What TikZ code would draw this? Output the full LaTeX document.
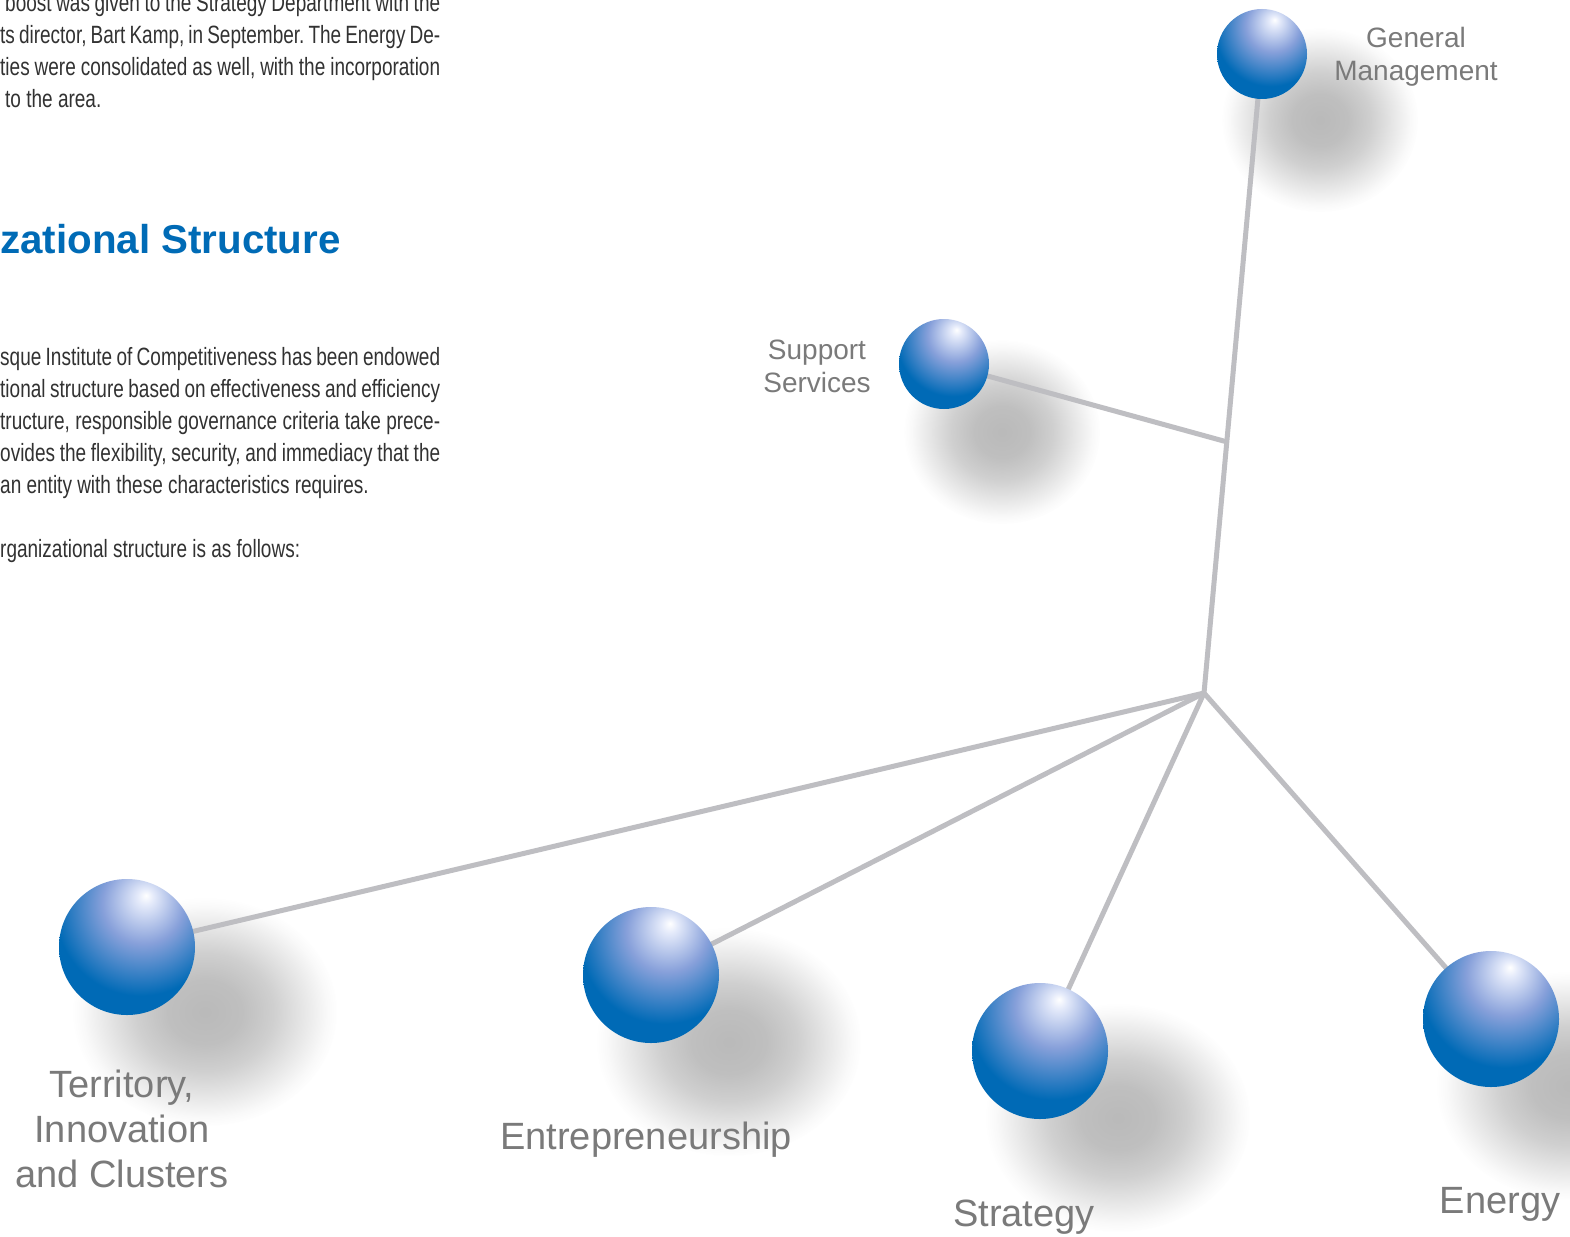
\documentclass[tikz,border=0pt]{standalone}
\usepackage{fontspec}
\setmainfont{Liberation Sans}
\newfontfamily\bodyfont[FakeStretch=0.76]{Liberation Sans}
\usetikzlibrary{fadings,backgrounds,calc}
\frenchspacing
\definecolor{sphblue}{RGB}{0,106,182}
\definecolor{hlcol}{RGB}{228,234,250}
\definecolor{midcol}{RGB}{135,160,218}
\definecolor{linegray}{RGB}{190,190,194}
\definecolor{labelgray}{RGB}{122,122,122}
\definecolor{textgray}{RGB}{50,50,50}
\definecolor{titleblue}{RGB}{0,107,182}
\pgfdeclareradialshading{sphereshade}{\pgfpoint{7bp}{19bp}}{color(0bp)=(white); color(3bp)=(hlcol); color(15bp)=(midcol); color(31bp)=(sphblue); color(100bp)=(sphblue)}
\pgfdeclareradialshading{shfadesh}{\pgfpointorigin}{color(0bp)=(white); color(7bp)=(white!92!black); color(13bp)=(white!68!black); color(19bp)=(white!32!black); color(23bp)=(white!8!black); color(25bp)=(black); color(50bp)=(black)}
\pgfdeclarefading{shfade}{\pgfuseshading{shfadesh}}
\tikzset{
  ball/.style={circle, inner sep=0pt, shade, shading=sphereshade},
  bigball/.style={ball, minimum size=136pt},
  smallball/.style={ball, minimum size=90pt},
  conn/.style={draw=linegray, line width=5pt},
  lbl/.style={text=labelgray, align=center, inner sep=0pt},
  biglbl/.style={lbl, font=\fontsize{38}{45}\selectfont},
  smalllbl/.style={lbl, font=\fontsize{28}{33}\selectfont},
  body/.style={text=textgray, anchor=base west, inner sep=0pt, font=\bodyfont\fontsize{25}{32}\selectfont},
  shadowblob/.style={fill=black!27, path fading=shfade}
}
\begin{document}
\begin{tikzpicture}[x=1pt, y=-1pt]
\useasboundingbox (0,0) rectangle (1570,1236);

% body text
\node[body] (t1) at (5,12) {\makebox[435pt][s]{boost was given to the Strategy Department with the}};
\node[body] (t2) at (0,44) {\makebox[440pt][s]{ts director, Bart Kamp, in September. The Energy De-}};
\node[body] (t3) at (0,76) {\makebox[440pt][s]{ties were consolidated as well, with the incorporation}};
\node[body] (t4) at (5,108) {to the area.};
\node[text=titleblue, anchor=base west, inner sep=0pt, font=\bfseries\fontsize{40.3}{48}\selectfont] (title) at (0,253) {zational Structure};
\node[body] (t5) at (0,365) {\makebox[440pt][s]{sque Institute of Competitiveness has been endowed}};
\node[body] (t6) at (0,397) {\makebox[440pt][s]{tional structure based on effectiveness and efficiency}};
\node[body] (t7) at (0,429) {\makebox[440pt][s]{tructure, responsible governance criteria take prece-}};
\node[body] (t8) at (0,461) {\makebox[440pt][s]{ovides the flexibility, security, and immediacy that the}};
\node[body] (t9) at (0,493) {an entity with these characteristics requires.};
\node[body] (t10) at (0,557) {rganizational structure is as follows:};

% spheres
\node[smallball] (gm) at (1262,54) {};
\node[smallball] (ss) at (944,364) {};
\node[bigball] (tic) at (127,947) {};
\node[bigball] (ent) at (651,975) {};
\node[bigball] (str) at (1040,1051) {};
\node[bigball] (ene) at (1491,1019) {};

\coordinate (hub) at (1204,693);
\coordinate (junc) at ($(gm.center)!0.607!(hub)$);

\begin{scope}[on background layer]
  \fill[white] (0,0) rectangle (1570,1236);
  % shadows
  \fill[shadowblob] (1320,120) ellipse [x radius=98, y radius=92];
  \fill[shadowblob] (1002,432) ellipse [x radius=98, y radius=92];
  \fill[shadowblob] (205,1012) ellipse [x radius=132, y radius=114];
  \fill[shadowblob] (729,1042) ellipse [x radius=132, y radius=114];
  \fill[shadowblob] (1118,1118) ellipse [x radius=132, y radius=114];
  \fill[shadowblob] (1569,1086) ellipse [x radius=132, y radius=114];
  % connectors
  \draw[conn] (gm.center) -- (hub);
  \draw[conn] (ss.center) -- (junc);
  \draw[conn] (hub) -- (tic.center);
  \draw[conn] (hub) -- (ent.center);
  \draw[conn] (hub) -- (str.center);
  \draw[conn] (hub) -- (ene.center);
\end{scope}

% labels
\node[smalllbl] (gml) at (1416,57) {General\\Management};
\node[smalllbl] (ssl) at (817,366) {Support\\Services};
\node[biglbl] (ticl) at (122,1129) {Territory,\\Innovation\\and Clusters};
\node[biglbl] (entl) at (646,1140) {Entrepreneurship};
\node[biglbl] (strl) at (1024,1217) {Strategy};
\node[biglbl] (enel) at (1500,1204) {Energy};
\end{tikzpicture}
\end{document}
